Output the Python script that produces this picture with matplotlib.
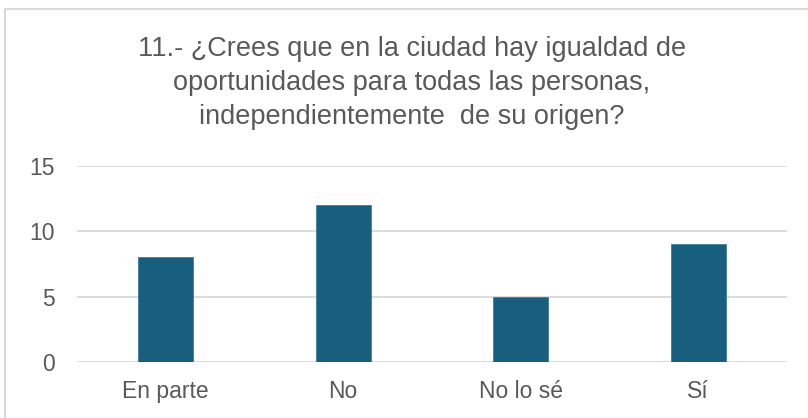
import matplotlib
matplotlib.use("Agg")
import matplotlib.pyplot as plt
from matplotlib.patches import Rectangle

categories = ["En parte", "No", "No lo sé", "Sí"]
values = [8, 12, 5, 9]
title = ("11.- ¿Crees que en la ciudad hay igualdad de\n"
         "oportunidades para todas las personas,\n"
         "independientemente  de su origen?")

plt.rcParams['font.family'] = ['Liberation Sans', 'DejaVu Sans']
textColor = '#595959'
gridColor = '#D9D9D9'
barColor = '#175E7F'

fig = plt.figure(figsize=(8.08, 4.18), dpi=100)
ax = fig.add_axes([0.0953, 0.134, 0.8787, 0.4689])

x = range(len(categories))
ax.bar(x, values, width=0.31, color=barColor, edgecolor='#3E7C9A', linewidth=0.6, zorder=3)

ax.set_ylim(0, 15)
ax.set_xlim(-0.5, len(categories) - 0.5)
ax.set_yticks([0, 5, 10, 15])
ax.set_xticks(list(x))
ax.set_xticklabels(categories)
ax.tick_params(axis='both', length=0, labelsize=16.5, colors=textColor)
ax.tick_params(axis='y', pad=16)
ax.tick_params(axis='x', pad=13)
ax.grid(axis='y', color=gridColor, linewidth=1.3, zorder=0)
for s in ax.spines.values():
    s.set_visible(False)

fig.text(0.51, 0.915, title, ha='center', va='top', fontsize=19.5,
         color=textColor, linespacing=1.4)

# chart border (only top/left visible in the crop)
fig.patches.append(Rectangle((5 / 808, -0.1), 1.2, 1 - 9 / 418 + 0.1,
                             transform=fig.transFigure, fill=False,
                             edgecolor='#D9D9D9', linewidth=1.5))

fig.savefig("out.png", dpi=100)
